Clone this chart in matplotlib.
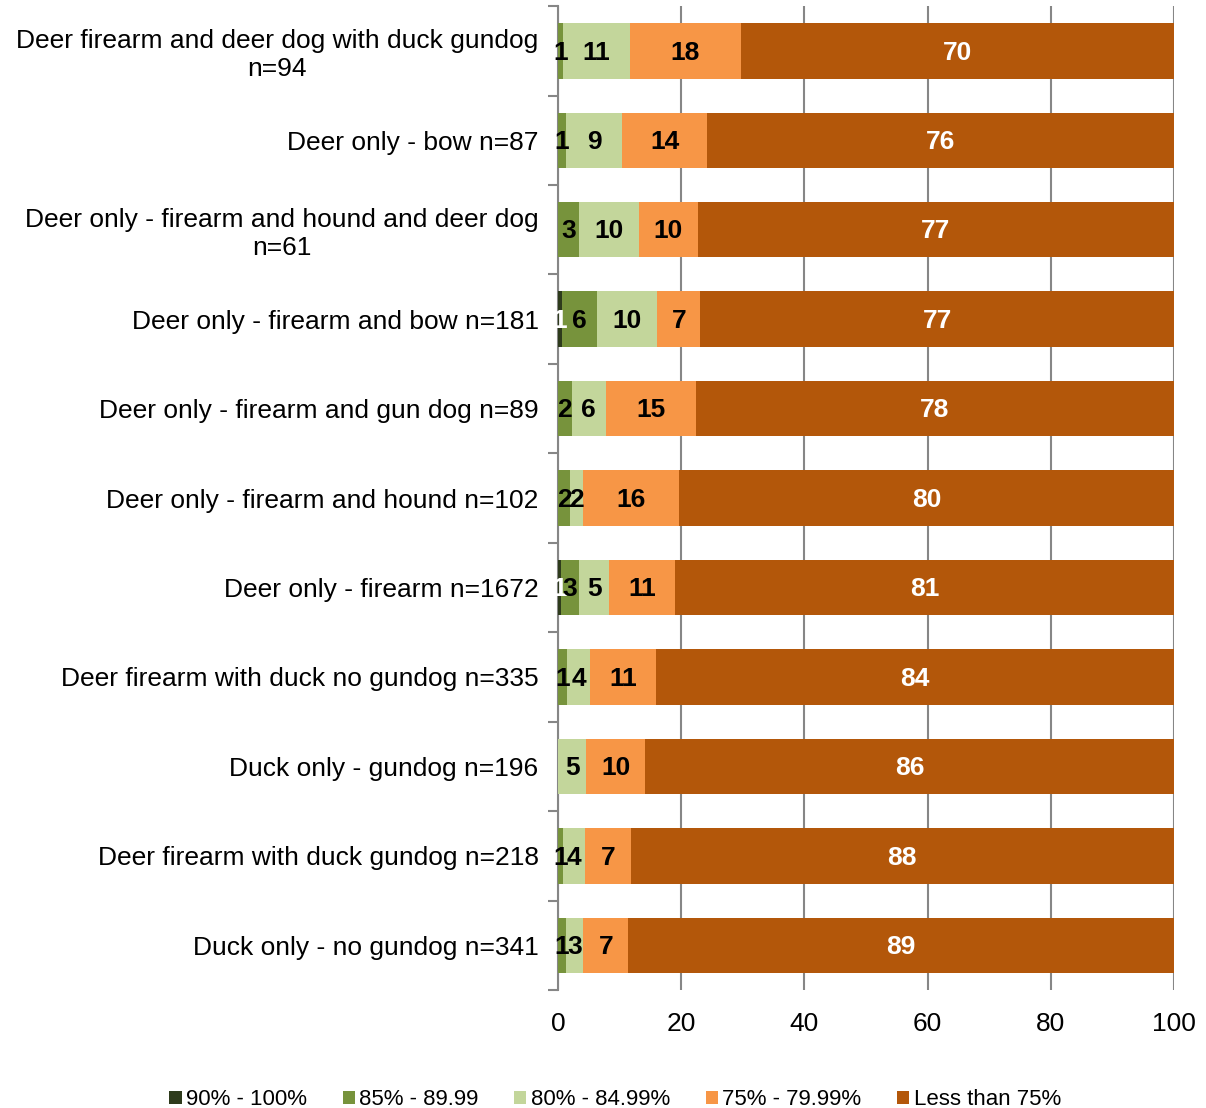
import matplotlib.pyplot as plt
import numpy as np

plt.rcParams['font.family'] = ['Liberation Sans', 'DejaVu Sans']

categories = [
    "Deer firearm and deer dog with duck gundog\nn=94",
    "Deer only - bow n=87",
    "Deer only - firearm and hound and deer dog\nn=61",
    "Deer only - firearm and bow n=181",
    "Deer only - firearm and gun dog n=89",
    "Deer only - firearm and hound n=102",
    "Deer only - firearm n=1672",
    "Deer firearm with duck no gundog n=335",
    "Duck only - gundog n=196",
    "Deer firearm with duck gundog n=218",
    "Duck only - no gundog n=341",
]
series = ["90% - 100%", "85% - 89.99", "80% - 84.99%", "75% - 79.99%", "Less than 75%"]
s90 = [0, 0, 0, 0.6, 0, 0, 0.5, 0, 0, 0, 0]
s85 = [0.8, 1.3, 3.4, 5.8, 2.2, 2.0, 2.9, 1.5, 0, 0.8, 1.3]
s80 = [10.9, 9.1, 9.7, 9.7, 5.6, 2.1, 4.9, 3.7, 4.6, 3.6, 2.8]
s75 = [18.0, 13.8, 9.6, 7.0, 14.6, 15.6, 10.7, 10.7, 9.6, 7.4, 7.3]
slt = [70.3, 75.8, 77.3, 76.9, 77.6, 80.3, 81.0, 84.1, 85.8, 88.2, 88.6]
labels_shown = [
    [None, 1, 11, 18, 70],
    [None, 1, 9, 14, 76],
    [None, 3, 10, 10, 77],
    [1, 6, 10, 7, 77],
    [None, 2, 6, 15, 78],
    [None, 2, 2, 16, 80],
    [1, 3, 5, 11, 81],
    [None, 1, 4, 11, 84],
    [None, None, 5, 10, 86],
    [None, 1, 4, 7, 88],
    [None, 1, 3, 7, 89],
]
colors = ["#2E3B1C", "#77933C", "#C3D69B", "#F79646", "#B3570A"]
text_colors = ["white", "black", "black", "black", "white"]

fig = plt.figure(figsize=(12.06, 11.08), dpi=100)
ax = fig.add_axes([0.4627, 0.1065, 0.5108, 0.888])

y = np.arange(len(categories))
left = np.zeros(len(categories))
for i, vals in enumerate([s90, s85, s80, s75, slt]):
    vals = np.array(vals)
    ax.barh(y, vals, left=left, height=0.62, color=colors[i], label=series[i], zorder=3)
    for j, v in enumerate(vals):
        lab = labels_shown[j][i]
        if lab is not None and v > 0:
            ax.text(left[j] + v / 2, y[j] + 0.02, str(lab), ha='center', va='center',
                    fontsize=19, fontweight='bold', color=text_colors[i], zorder=4)
    left += vals

ax.set_ylim(len(categories) - 0.5, -0.5)
ax.set_xlim(0, 100)
ax.set_xticks(range(0, 101, 20))
ax.tick_params(axis='x', length=0, labelsize=19, pad=16)
ax.set_yticks(y)
ax.set_yticklabels(categories, fontsize=19, multialignment='center')
ax.tick_params(axis='y', length=0, pad=14)
# category boundary ticks
ax.set_yticks(np.arange(-0.5, len(categories), 1), minor=True)
ax.tick_params(axis='y', which='minor', length=7, width=1.5, color='#868686')
ax.grid(axis='x', color='#868686', linewidth=1.5, zorder=0)
for s in ['top', 'right', 'bottom']:
    ax.spines[s].set_visible(False)
ax.spines['left'].set_color('#868686')
ax.spines['left'].set_linewidth(1.5)

fig.legend(loc='lower center', bbox_to_anchor=(0.51, -0.02), ncol=5, frameon=False,
           fontsize=16, handlelength=0.55, handleheight=0.55, handletextpad=0.2,
           columnspacing=1.6)

fig.savefig("out.png", dpi=100)
